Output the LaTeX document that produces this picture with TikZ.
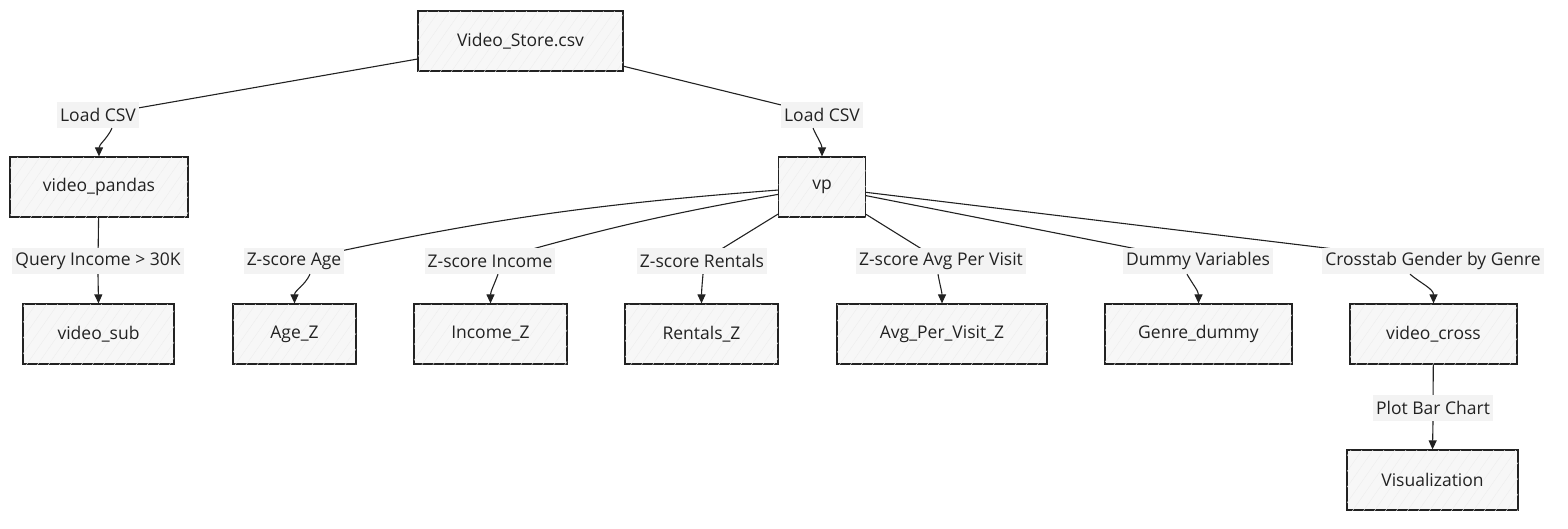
\documentclass[tikz,border=0pt]{standalone}
\usepackage{fontspec}
\setmainfont{Open Sans}
\usetikzlibrary{arrows.meta,patterns.meta,backgrounds}
\definecolor{ink}{HTML}{222222}
\definecolor{boxfill}{HTML}{F7F7F7}
\definecolor{lblfill}{HTML}{F3F3F3}
\begin{document}
\begin{tikzpicture}[x=1pt,y=1pt,
  box/.style={draw=ink, line width=1.2pt, fill=boxfill,
    postaction={pattern={Lines[angle=55,distance=9pt,line width=0.4pt]}, pattern color=black!7},
    minimum height=60pt, inner sep=0pt, font=\fontsize{17.5}{20}\selectfont, text=ink},
  lbl/.style={fill=lblfill, inner xsep=3pt, inner ysep=0pt, minimum height=26pt,
    font=\fontsize{17.5}{20}\selectfont, text=ink},
  edge/.style={draw=ink, line width=1.1pt},
  arr/.style={edge, -{Triangle[length=9pt,width=8pt]}}]
\useasboundingbox (0,0) rectangle (1568,-528);
% boxes
\node[box,minimum width=205pt] (vs) at (520.5,-41) {Video\_Store.csv};
\node[box,minimum width=178pt] (vpd) at (99,-187) {video\_pandas};
\node[box,minimum width=151pt] (vsub) at (98.5,-334) {video\_sub};
\node[box,minimum width=87pt] (vp) at (822,-187) {vp};
\node[box,minimum width=123pt] (agez) at (294.5,-334) {Age\_Z};
\node[box,minimum width=153pt] (incz) at (490.5,-334) {Income\_Z};
\node[box,minimum width=153pt] (renz) at (701.5,-334) {Rentals\_Z};
\node[box,minimum width=210pt] (avgz) at (942,-334) {Avg\_Per\_Visit\_Z};
\node[box,minimum width=187pt] (genre) at (1198.5,-334) {Genre\_dummy};
\node[box,minimum width=167pt] (vcross) at (1433.5,-334) {video\_cross};
\node[box,minimum width=171pt] (vis) at (1432.5,-480) {Visualization};
% labels
\node[lbl] (l1) at (98,-115) {Load CSV};
\node[lbl] (l2) at (822,-115) {Load CSV};
\node[lbl] (l3) at (98,-261) {Query Income > 30K};
\node[lbl] (l4) at (294,-261) {Z-score Age};
\node[lbl] (l5) at (490,-261) {Z-score Income};
\node[lbl] (l6) at (702,-261) {Z-score Rentals};
\node[lbl] (l7) at (941,-261) {Z-score Avg Per Visit};
\node[lbl] (l8) at (1198,-261) {Dummy Variables};
\node[lbl] (l9) at (1433,-261) {Crosstab Gender by Genre};
\node[lbl] (l10) at (1433,-408) {Plot Bar Chart};
% edges up to labels (hidden behind labels)
\begin{scope}[on background layer]
\draw[edge] (vs) -- (l1.center);
\draw[edge] (vs) -- (l2.center);
\draw[edge] (vpd) -- (l3.center);
\draw[edge] (vp) to[bend right=4] (l4.center);
\draw[edge] (vp) to[bend right=3] (l5.center);
\draw[edge] (vp) -- (l6.center);
\draw[edge] (vp) -- (l7.center);
\draw[edge] (vp) -- (l8.center);
\draw[edge] (vp) -- (l9.center);
\draw[edge] (vcross) -- (l10.center);
\end{scope}
% arrows from labels to targets
\draw[arr] ([xshift=14pt]l1.south) to[out=-115,in=90] (vpd.north);
\draw[arr] ([xshift=-9pt]l2.south) to[out=-65,in=90] (vp.north);
\draw[arr] (l3.south) -- (vsub.north);
\draw[arr] ([xshift=16pt]l4.south) to[out=-115,in=90] (agez.north);
\draw[arr] ([xshift=8pt]l5.south) to[out=-110,in=90] (incz.north);
\draw[arr] ([xshift=1pt]l6.south) to[out=-95,in=90] (renz.north);
\draw[arr] ([xshift=-3pt]l7.south) to[out=-80,in=90] (avgz.north);
\draw[arr] ([xshift=-11pt]l8.south) to[out=-60,in=90] (genre.north);
\draw[arr] ([xshift=-23pt]l9.south) to[out=-40,in=90] (vcross.north);
\draw[arr] (l10.south) -- (vis.north);
\end{tikzpicture}
\end{document}
